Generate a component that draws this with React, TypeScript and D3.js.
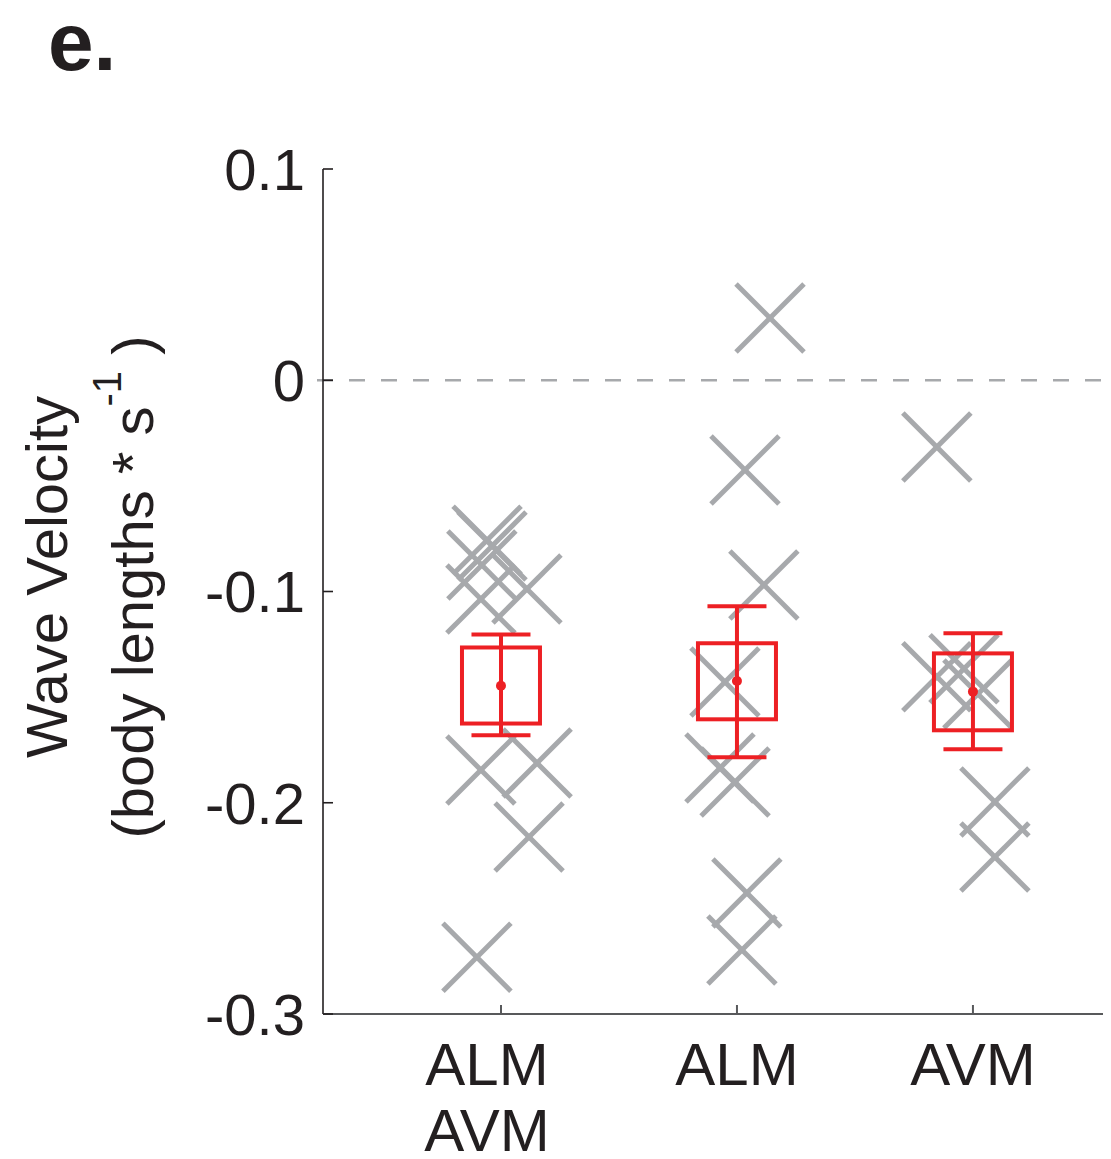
import React from "react";
import * as d3 from "d3";

// categories (multi-line tick labels)
const categories = [["ALM", "AVM"], ["ALM"], ["AVM"]];

// individual animals: x in category units (jittered), y in body lengths / s
const pointsX = [
  [0.941, 0.962, 0.919, 0.915, 1.11, 0.915, 1.153, 1.119, 0.898],
  [2.14, 2.034, 2.114, 1.949, 1.928, 1.992, 2.042, 2.021],
  [2.847, 2.847, 2.962, 3.021, 3.093, 3.093],
];
const pointsY = [
  [-0.0757, -0.0785, -0.0875, -0.1036, -0.0988, -0.1845, -0.1812, -0.2162, -0.2731],
  [0.0295, -0.0425, -0.0969, -0.1428, -0.1836, -0.1902, -0.2427, -0.2697],
  [-0.0316, -0.1404, -0.1366, -0.1485, -0.1996, -0.2257],
];

// summary per group
const means = [-0.1446, -0.1424, -0.1474];
const boxHi = [-0.1265, -0.1245, -0.1293];
const boxLo = [-0.1625, -0.1605, -0.1657];
const errHi = [-0.1203, -0.107, -0.1198];
const errLo = [-0.1681, -0.1785, -0.1747];

const yTicks = [0.1, 0, -0.1, -0.2, -0.3];

const W = 1111;
const H = 1159;
const left = 323;
const right = 1111;
const top = 169;
const bottom = 1014;

const GRAY = "#a7a9ac";
const RED = "#ed2024";
const INK = "#231f20";
const FONT = "'Liberation Sans', Arial, Helvetica, sans-serif";

const App: React.FC = () => {
  const x = d3.scaleLinear().domain([0.2458, 3.585]).range([left, right]);
  const y = d3.scaleLinear().domain([-0.3, 0.1]).range([bottom, top]);

  const arm = 34;
  const boxW = 39;
  const capW = 29.5;

  const fmt = (v: number) => (v === 0 ? "0" : d3.format(".1f")(v).replace("−", "-"));

  return (
    <svg width={W} height={H} style={{ display: "block", margin: -8 }} fontFamily={FONT}>
      {/* panel label */}
      <text x={48} y={70} fontSize={82} fontWeight="bold" fill={INK}>
        e.
      </text>

      {/* zero line */}
      <line
        x1={left - 6}
        x2={right - 10}
        y1={y(0)}
        y2={y(0)}
        stroke={GRAY}
        strokeWidth={2.5}
        strokeDasharray="16 16"
      />

      {/* axes */}
      <line x1={left} x2={left} y1={top} y2={bottom} stroke={INK} strokeWidth={1.6} />
      <line x1={left} x2={right} y1={bottom} y2={bottom} stroke="#58595b" strokeWidth={2} />

      {yTicks.map((t) => (
        <g key={t}>
          <line x1={left} x2={left + 10} y1={y(t)} y2={y(t)} stroke={INK} strokeWidth={1.6} />
          <text
            x={left - 18}
            y={y(t)}
            dy="0.36em"
            textAnchor="end"
            fontSize={58}
            fill={INK}
          >
            {fmt(t)}
          </text>
        </g>
      ))}

      {categories.map((lines, i) => (
        <g key={i}>
          <line
            x1={x(i + 1)}
            x2={x(i + 1)}
            y1={bottom}
            y2={bottom - 9}
            stroke="#58595b"
            strokeWidth={2}
          />
          {lines.map((l, j) => (
            <text
              key={j}
              x={x(i + 1) + (lines.length > 1 ? -14 : 0)}
              y={bottom + 71 + j * 66}
              textAnchor="middle"
              fontSize={60}
              fill={INK}
            >
              {l}
            </text>
          ))}
        </g>
      ))}

      {/* y label */}
      <text
        transform={`translate(67,577) rotate(-90)`}
        textAnchor="middle"
        fontSize={58}
        fill={INK}
      >
        Wave Velocity
      </text>
      <text
        transform={`translate(153,587) rotate(-90)`}
        textAnchor="middle"
        fontSize={58}
        fill={INK}
      >
        (body lengths * s
        <tspan fontSize={40} dy={-32}>
          -1
        </tspan>
        <tspan dy={32}> )</tspan>
      </text>

      {/* individual crosses */}
      {pointsX.map((xs, g) =>
        xs.map((px, k) => {
          const cx = x(px);
          const cy = y(pointsY[g][k]);
          return (
            <g key={`${g}-${k}`} stroke={GRAY} strokeWidth={5}>
              <line x1={cx - arm} y1={cy - arm} x2={cx + arm} y2={cy + arm} />
              <line x1={cx - arm} y1={cy + arm} x2={cx + arm} y2={cy - arm} />
            </g>
          );
        })
      )}

      {/* summary boxes */}
      {means.map((m, i) => {
        const cx = x(i + 1);
        return (
          <g key={i} stroke={RED} strokeWidth={4} fill="none">
            <rect
              x={cx - boxW}
              y={y(boxHi[i])}
              width={boxW * 2}
              height={y(boxLo[i]) - y(boxHi[i])}
            />
            <line x1={cx} x2={cx} y1={y(errHi[i])} y2={y(errLo[i])} />
            <line x1={cx - capW} x2={cx + capW} y1={y(errHi[i])} y2={y(errHi[i])} />
            <line x1={cx - capW} x2={cx + capW} y1={y(errLo[i])} y2={y(errLo[i])} />
            <circle cx={cx} cy={y(m)} r={5} fill={RED} stroke="none" />
          </g>
        );
      })}
    </svg>
  );
};

export default App;
